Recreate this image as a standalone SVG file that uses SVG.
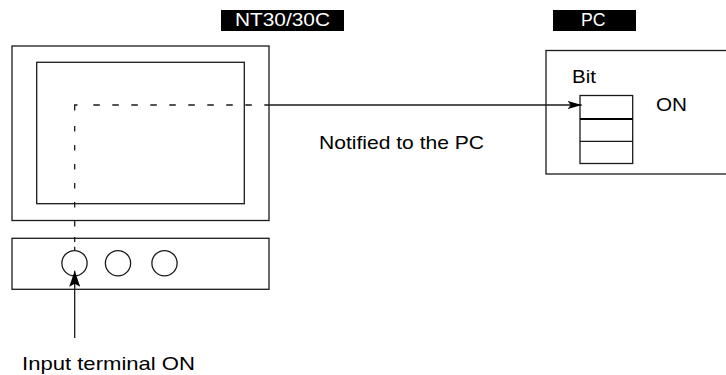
<svg xmlns="http://www.w3.org/2000/svg" width="726" height="375" viewBox="0 0 726 375">
<style>
.box{fill:none;stroke:#1a1a1a;stroke-width:1.3}
.ln{fill:none;stroke:#1a1a1a;stroke-width:1.3}
.t{font-family:"Liberation Sans",Arial,Helvetica,sans-serif;fill:#000}
.lbl{font-family:"Liberation Sans",Arial,Helvetica,sans-serif;fill:#fff}
</style>
<defs>
<marker id="ah" markerUnits="userSpaceOnUse" markerWidth="16" markerHeight="9" refX="14" refY="4" orient="auto">
<path d="M0,0 L14,4 L0,8 L3,4 Z" fill="#000"/>
</marker>
<marker id="ahv" markerUnits="userSpaceOnUse" markerWidth="18" markerHeight="12" refX="16" refY="5.5" orient="auto">
<path d="M0,0 L16,5.5 L0,11 L3,5.5 Z" fill="#000"/>
</marker>
</defs>
<rect width="726" height="375" fill="#fff"/>
<g id="label-nt30">
<rect x="221" y="10" width="123" height="21" fill="#000"/>
<text class="lbl" x="235" y="25.7" font-size="18" textLength="95" lengthAdjust="spacingAndGlyphs">NT30/30C</text>
</g>
<g id="label-pc">
<rect x="553" y="10" width="83" height="21" fill="#000"/>
<text class="lbl" x="581" y="25.7" font-size="18" textLength="24.5" lengthAdjust="spacingAndGlyphs">PC</text>
</g>
<g id="nt30-screen">
<rect class="box" x="12" y="46" width="257" height="174.5"/>
<rect class="box" x="36.7" y="62.3" width="207.6" height="141.4"/>
</g>
<g id="nt30-terminals">
<rect class="box" x="12" y="238.3" width="257" height="51"/>
<circle class="box" cx="74.5" cy="263.2" r="12.6"/>
<circle class="box" cx="118" cy="263.2" r="12.6"/>
<circle class="box" cx="164.5" cy="263.2" r="12.6"/>
</g>
<g id="pc">
<rect class="box" x="546" y="50.5" width="185" height="123.5"/>
<text class="t" x="572" y="83" font-size="18.5" textLength="24" lengthAdjust="spacingAndGlyphs">Bit</text>
<rect class="box" x="580" y="95.5" width="52.7" height="68"/>
<line x1="580" y1="119" x2="632.7" y2="119" stroke="#000" stroke-width="2"/>
<line class="ln" x1="580" y1="141.3" x2="632.7" y2="141.3"/>
<text class="t" x="656" y="111" font-size="18.5" textLength="31" lengthAdjust="spacingAndGlyphs">ON</text>
</g>
<g id="connectors">
<path class="ln" d="M74.7,110.5 V105 H77.5"/>
<line class="ln" x1="93.3" y1="105" x2="264.3" y2="105" stroke-dasharray="6.5 12.5"/>
<line class="ln" x1="74.7" y1="126" x2="74.7" y2="227" stroke-dasharray="5.5 13.5"/>
<line class="ln" x1="74.7" y1="237" x2="74.7" y2="242"/>
<line class="ln" x1="74.7" y1="246.7" x2="74.7" y2="250.6"/>
<line class="ln" x1="264.3" y1="105" x2="581.7" y2="105" marker-end="url(#ah)"/>
<line class="ln" x1="74.7" y1="338" x2="74.7" y2="270.7" marker-end="url(#ahv)"/>
</g>
<g id="texts">
<text class="t" x="319" y="148.5" font-size="19" textLength="165" lengthAdjust="spacingAndGlyphs">Notified to the PC</text>
<text class="t" x="22" y="370" font-size="19" textLength="173" lengthAdjust="spacingAndGlyphs">Input terminal ON</text>
</g>
</svg>
